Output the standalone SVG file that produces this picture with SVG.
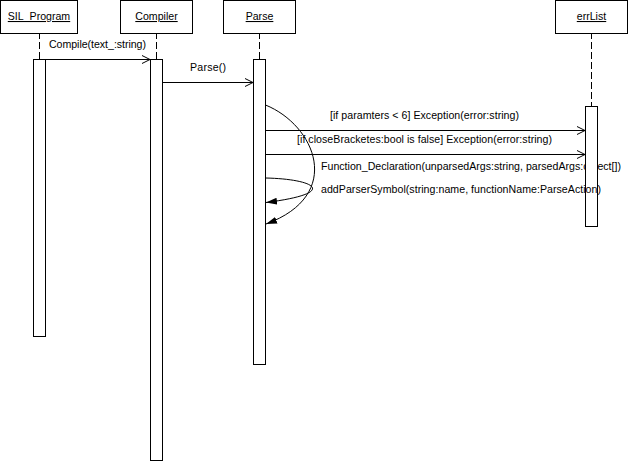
<svg xmlns="http://www.w3.org/2000/svg" width="628" height="462" viewBox="0 0 628 462">
  <style>
    text { font-family: "Liberation Sans", Arial, sans-serif; font-size: 10.6px; fill: #000; }
    .head { fill: #fff; stroke: #000; stroke-width: 1; }
    .act { fill: #fff; stroke: #000; stroke-width: 1; }
    .life { stroke: #000; stroke-width: 1; stroke-dasharray: 7 3; stroke-dashoffset: 2; fill: none; }
    .msg { stroke: #000; stroke-width: 1; fill: none; }
    .name { text-anchor: middle; text-decoration: underline; }
    .mid { text-anchor: middle; }
  </style>
  <defs>
    <marker id="open" markerWidth="10" markerHeight="10" refX="9" refY="5" orient="auto" markerUnits="userSpaceOnUse">
      <path d="M1,1 L9,5 L1,9" fill="none" stroke="#000" stroke-width="1"/>
    </marker>
    <marker id="solid" markerWidth="12" markerHeight="10" refX="11" refY="5" orient="auto" markerUnits="userSpaceOnUse">
      <path d="M0,1.5 L11,5 L0,8.5 Z" fill="#000"/>
    </marker>
  </defs>
  <rect width="628" height="462" fill="#fff"/>

  <!-- messages -->
  <g id="connectors">
    <line class="msg" x1="45.5" y1="59.5" x2="150" y2="59.5" marker-end="url(#open)"/>
    <text class="mid" x="97.5" y="48" textLength="97" lengthAdjust="spacing">Compile(text_:string)</text>

    <line class="msg" x1="162.5" y1="82.5" x2="253" y2="82.5" marker-end="url(#open)"/>
    <text class="mid" x="208" y="71" textLength="36" lengthAdjust="spacing">Parse()</text>

    <line class="msg" x1="265.5" y1="130.5" x2="585" y2="130.5" marker-end="url(#open)"/>
    <text class="mid" x="424.5" y="119" textLength="189" lengthAdjust="spacing">[if paramters &lt; 6] Exception(error:string)</text>

    <line class="msg" x1="265.5" y1="154.5" x2="585" y2="154.5" marker-end="url(#open)"/>
    <text class="mid" x="424.5" y="143" textLength="255" lengthAdjust="spacing">[if closeBracketes:bool is false] Exception(error:string)</text>

    <path class="msg" d="M265.5,105 C315,125 345,195 266,224" marker-end="url(#solid)"/>
    <text x="321" y="170" textLength="300" lengthAdjust="spacing">Function_Declaration(unparsedArgs:string, parsedArgs:object[])</text>

    <path class="msg" d="M265.5,178 C315,179 340,193 266,202.5" marker-end="url(#solid)"/>
  </g>

  <!-- participants -->
  <g id="sil_program">
    <rect class="head" x="0.5" y="0.5" width="77" height="33"/>
    <text class="name" x="39" y="20">SIL_Program</text>
    <line class="life" x1="39.5" y1="34" x2="39.5" y2="59"/>
    <rect class="act" x="33.5" y="59.5" width="12" height="277"/>
  </g>

  <g id="compiler">
    <rect class="head" x="120.5" y="0.5" width="72" height="33"/>
    <text class="name" x="156.5" y="20">Compiler</text>
    <line class="life" x1="156.5" y1="34" x2="156.5" y2="59"/>
    <rect class="act" x="150.5" y="59.5" width="12" height="401"/>
  </g>

  <g id="parse">
    <rect class="head" x="223.5" y="0.5" width="72" height="33"/>
    <text class="name" x="259.5" y="20">Parse</text>
    <line class="life" x1="259.5" y1="34" x2="259.5" y2="59"/>
    <rect class="act" x="253.5" y="59.5" width="12" height="305"/>
  </g>

  <g id="errlist">
    <rect class="head" x="555.5" y="0.5" width="72" height="33"/>
    <text class="name" x="591.5" y="20">errList</text>
    <line class="life" x1="591.5" y1="34" x2="591.5" y2="106"/>
    <rect class="act" x="585.5" y="106.5" width="12" height="120"/>
  </g>

  <!-- label of the addParserSymbol self-call, painted above the errList bar -->
  <g id="connector-labels">
    <text x="321" y="193" textLength="280" lengthAdjust="spacing">addParserSymbol(string:name, functionName:ParseAction)</text>
  </g>
</svg>
